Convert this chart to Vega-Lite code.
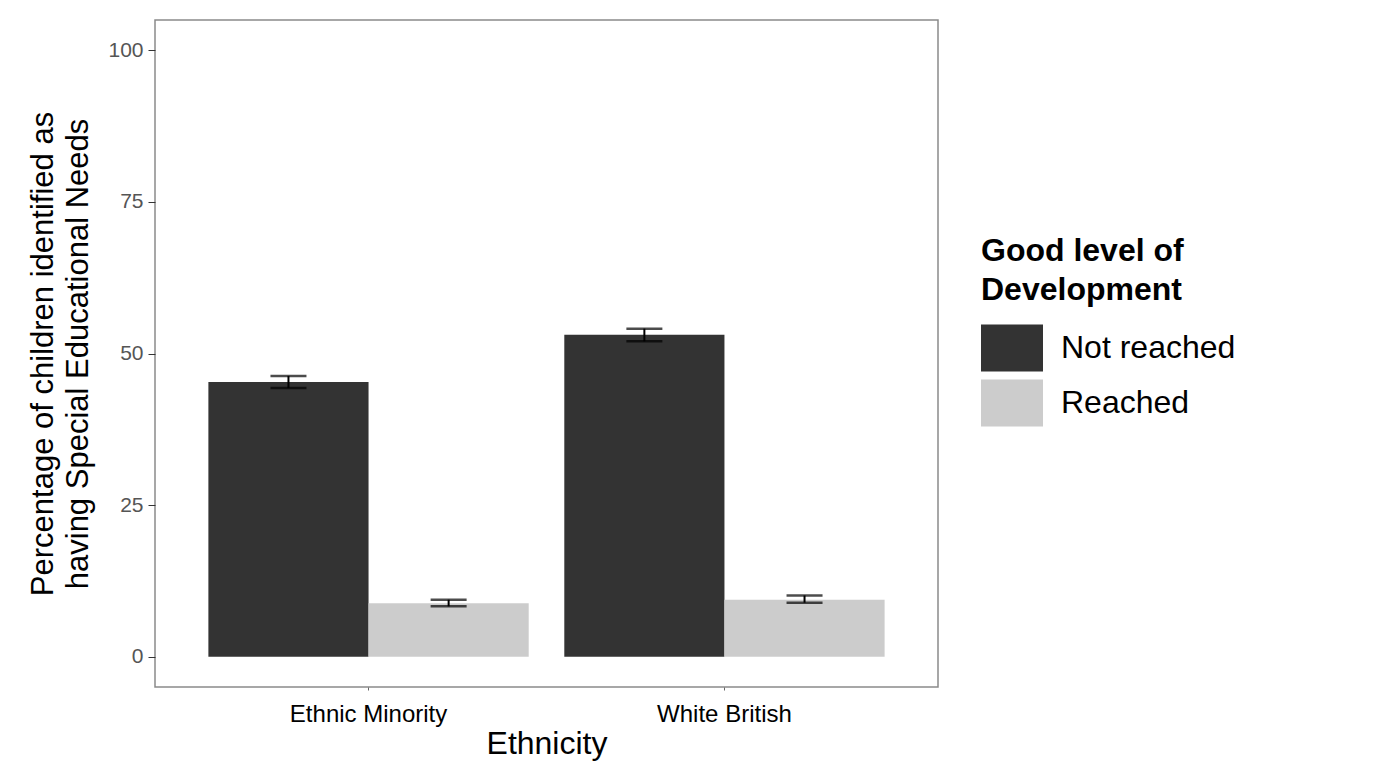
{
  "$schema": "https://vega.github.io/schema/vega-lite/v6.json",
  "width": 783,
  "height": 667,
  "autosize": {"type": "none"},
  "padding": {"left": 155, "top": 20, "right": 438, "bottom": 74},
  "background": "white",
  "config": {
    "font": "Liberation Sans",
    "view": {"stroke": "#8a8a8a", "strokeWidth": 1.5}
  },
  "data": {
    "values": [
      {"eth": "Ethnic Minority", "gld": "Not reached", "pct": 45.3, "lo": 44.3, "hi": 46.3},
      {"eth": "Ethnic Minority", "gld": "Reached", "pct": 8.8, "lo": 8.3, "hi": 9.4},
      {"eth": "White British", "gld": "Not reached", "pct": 53.1, "lo": 52.0, "hi": 54.1},
      {"eth": "White British", "gld": "Reached", "pct": 9.4, "lo": 8.9, "hi": 10.1}
    ]
  },
  "encoding": {
    "x": {
      "field": "eth",
      "type": "nominal",
      "scale": {"paddingInner": 0.1, "paddingOuter": 0.15},
      "title": "Ethnicity",
      "axis": {
        "labelAngle": 0,
        "labelFontSize": 24,
        "labelColor": "black",
        "labelPadding": 12,
        "tickSize": 3,
        "tickColor": "#666",
        "domain": false,
        "titleFontSize": 32,
        "titleFontWeight": "normal",
        "titleColor": "black",
        "titlePadding": 2
      }
    },
    "xOffset": {"field": "gld", "type": "nominal", "scale": {"paddingInner": 0, "paddingOuter": 0}}
  },
  "layer": [
    {
      "mark": {"type": "bar"},
      "encoding": {
        "y": {
          "field": "pct",
          "type": "quantitative",
          "scale": {"domain": [-5, 105], "nice": false, "zero": false},
          "axis": {
            "values": [0, 25, 50, 75, 100],
            "grid": false,
            "domain": false,
            "tickColor": "#333",
            "tickSize": 7,
            "labelColor": "#555555",
            "labelFontSize": 21,
            "labelPadding": 5,
            "title": ["Percentage of children identified as", "having Special Educational Needs"],
            "titleFontSize": 31,
            "titleFontWeight": "normal",
            "titleColor": "black",
            "titleLineHeight": 35,
            "titlePadding": 13
          }
        },
        "color": {
          "field": "gld",
          "type": "nominal",
          "scale": {"domain": ["Not reached", "Reached"], "range": ["#333333", "#cccccc"]},
          "legend": {
            "orient": "none",
            "legendX": 826,
            "legendY": 216,
            "title": ["Good level of", "Development"],
            "titleFontSize": 32,
            "titleFontWeight": "bold",
            "titleColor": "black",
            "titleLineHeight": 39,
            "titlePadding": 10,
            "titleLimit": 400,
            "labelLimit": 400,
            "symbolType": "M-1,-0.76H1V0.76H-1Z",
            "symbolSize": 3844,
            "symbolStrokeWidth": 0,
            "symbolOpacity": 1,
            "labelFontSize": 32,
            "labelColor": "black",
            "labelOffset": 18,
            "rowPadding": -13
          }
        }
      }
    },
    {
      "mark": {"type": "rule", "color": "black", "strokeWidth": 2},
      "encoding": {
        "y": {"field": "lo", "type": "quantitative"},
        "y2": {"field": "hi"}
      }
    },
    {
      "mark": {"type": "tick", "color": "black", "thickness": 2.5, "size": 36, "orient": "horizontal"},
      "encoding": {"y": {"field": "lo", "type": "quantitative"}}
    },
    {
      "mark": {"type": "tick", "color": "black", "thickness": 2.5, "size": 36, "orient": "horizontal"},
      "encoding": {"y": {"field": "hi", "type": "quantitative"}}
    }
  ]
}
